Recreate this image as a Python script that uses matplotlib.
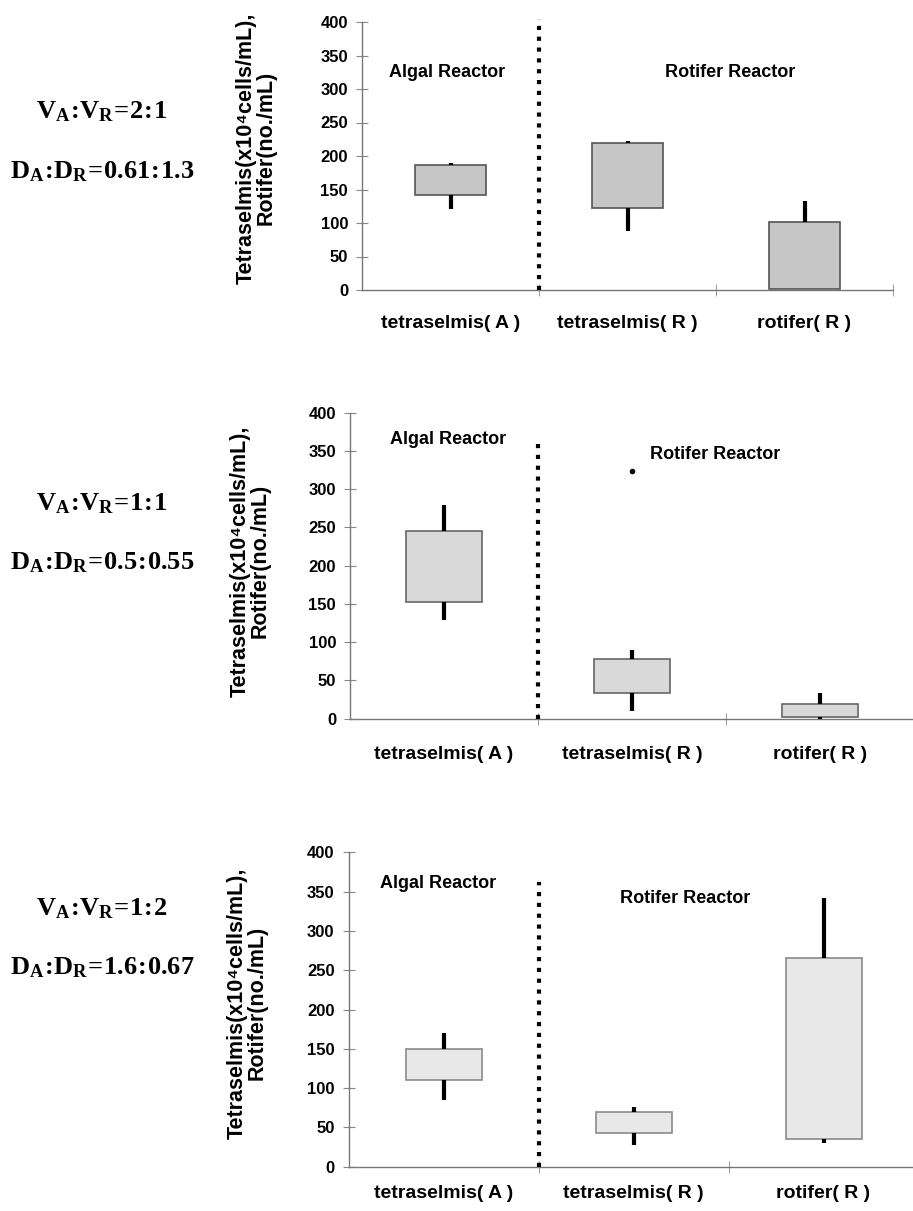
import numpy as np
import matplotlib
matplotlib.use('Agg')
import matplotlib.pyplot as plt

plt.rcParams['font.family'] = ['Liberation Sans', 'DejaVu Sans']
plt.rcParams['mathtext.fontset'] = 'custom'
plt.rcParams['mathtext.bf'] = 'Liberation Serif:bold'
plt.rcParams['mathtext.rm'] = 'Liberation Serif:bold'
plt.rcParams['mathtext.default'] = 'bf'

# categories
categories = ['tetraselmis( A )', 'tetraselmis( R )', 'rotifer( R )']

# panel 1: VA:VR = 2:1
box_lo_1 = [142, 122, 1]
box_hi_1 = [187, 220, 102]
whis_lo_1 = [121, 88, 1]
whis_hi_1 = [189, 222, 133]

# panel 2: VA:VR = 1:1
box_lo_2 = [152, 33, 2]
box_hi_2 = [245, 78, 19]
whis_lo_2 = [129, 10, 0]
whis_hi_2 = [279, 90, 34]
outlier_2 = [None, 324, None]

# panel 3: VA:VR = 1:2
box_lo_3 = [110, 43, 35]
box_hi_3 = [150, 69, 265]
whis_lo_3 = [85, 28, 30]
whis_hi_3 = [170, 76, 342]

ratio_labels = [
    (r'$V_A\!:\!V_R\!=\!2\!:\!1$', r'$D_A\!:\!D_R\!=\!0.61\!:\!1.3$'),
    (r'$V_A\!:\!V_R\!=\!1\!:\!1$', r'$D_A\!:\!D_R\!=\!0.5\!:\!0.55$'),
    (r'$V_A\!:\!V_R\!=\!1\!:\!2$', r'$D_A\!:\!D_R\!=\!1.6\!:\!0.67$'),
]
ylabel = 'Tetraselmis(x10\u2074cells/mL),\nRotifer(no./mL)'

W, H = 913, 1211
fig = plt.figure(figsize=(W / 100, H / 100), dpi=100)

panels = [
    dict(lo=box_lo_1, hi=box_hi_1, wlo=whis_lo_1, whi=whis_hi_1, out=[None] * 3,
         rect=(362, 22, 893, 290), fill='#c6c6c6', edge='#555555', div_top=405,
         algal=(0.48, 325), rotifer=(2.08, 325), pad=18,
         vy=(118, 178), ylab=(256, 148)),
    dict(lo=box_lo_2, hi=box_hi_2, wlo=whis_lo_2, whi=whis_hi_2, out=outlier_2,
         rect=(350, 412.7, 914, 718.7), fill='#d9d9d9', edge='#666666', div_top=367,
         algal=(0.52, 365), rotifer=(1.94, 346), pad=20,
         vy=(510, 569), ylab=(250, 561)),
    dict(lo=box_lo_3, hi=box_hi_3, wlo=whis_lo_3, whi=whis_hi_3, out=[None] * 3,
         rect=(348.5, 852.3, 918.5, 1166.7), fill='#e8e8e8', edge='#8a8a8a', div_top=362,
         algal=(0.47, 360), rotifer=(1.77, 341), pad=13,
         vy=(915, 974), ylab=(247, 1003)),
]

x = np.arange(len(categories)) + 0.5

for i, p in enumerate(panels):
    x0, ytop, x1, ybot = p['rect']
    ax = fig.add_axes([x0 / W, 1 - ybot / H, (x1 - x0) / W, (ybot - ytop) / H])
    ax.set_xlim(0, 3)
    ax.set_ylim(0, 400)
    for s in ['top', 'right']:
        ax.spines[s].set_visible(False)
    for s in ['left', 'bottom']:
        ax.spines[s].set_color('#777777')
        ax.spines[s].set_linewidth(1.0)

    lo = np.array(p['lo'], dtype=float)
    hi = np.array(p['hi'], dtype=float)
    ax.bar(x, hi - lo, bottom=lo, width=0.4, color=p['fill'],
           edgecolor=p['edge'], linewidth=1.2, zorder=2)
    # whiskers outside the box
    ax.vlines(x, hi, p['whi'], color='black', linewidth=3, zorder=3)
    ax.vlines(x, p['wlo'], lo, color='black', linewidth=3, zorder=3)
    for xi, o in zip(x, p['out']):
        if o is not None:
            ax.plot(xi, o, 'o', color='black', markersize=3, zorder=3)

    # reactor divider
    ax.vlines(1, 0, p['div_top'], color='black', linewidth=3,
              linestyles=(0, (1, 1.6)), clip_on=False, zorder=3)

    ax.text(p['algal'][0], p['algal'][1], 'Algal Reactor', ha='center', va='center',
            fontsize=13, fontweight='bold')
    ax.text(p['rotifer'][0], p['rotifer'][1], 'Rotifer Reactor', ha='center', va='center',
            fontsize=13, fontweight='bold')

    ax.set_yticks(np.arange(0, 401, 50))
    ax.tick_params(axis='y', direction='inout', length=8, color='#888888',
                   labelsize=12, pad=6)
    for t in ax.get_yticklabels():
        t.set_fontweight('bold')
    ax.set_xticks(x, categories)
    ax.set_xticks([1, 2, 3], minor=True)
    ax.tick_params(axis='x', which='major', length=0, labelsize=14, pad=p['pad'])
    ax.tick_params(axis='x', which='minor', direction='inout', length=8, color='#888888')
    for t in ax.get_xticklabels():
        t.set_fontweight('bold')

    fig.text(p['ylab'][0] / W, 1 - p['ylab'][1] / H, ylabel, rotation=90,
             ha='center', va='center', multialignment='center', linespacing=0.95,
             fontsize=15.5, fontweight='bold')

    va_lab, da_lab = ratio_labels[i]
    fig.text(102 / W, 1 - p['vy'][0] / H, va_lab, ha='center', va='baseline', fontsize=19)
    fig.text(102 / W, 1 - p['vy'][1] / H, da_lab, ha='center', va='baseline', fontsize=19)

fig.savefig('out.png', dpi=100)
